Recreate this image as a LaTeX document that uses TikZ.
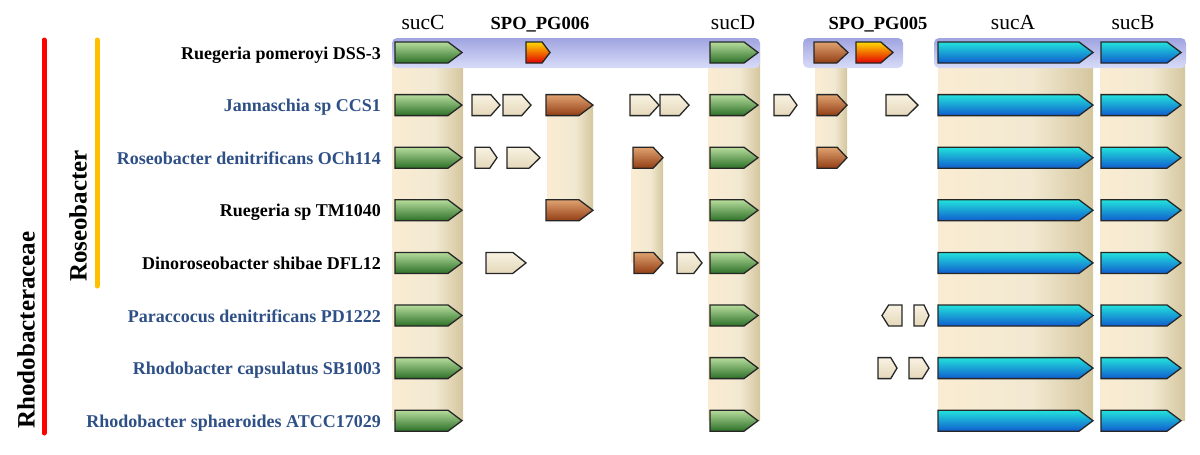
\documentclass[tikz,border=0pt]{standalone}
\usepackage{fontspec}
\setmainfont{Liberation Serif}
\definecolor{greenT}{RGB}{182,220,156}
\definecolor{greenB}{RGB}{44,112,40}
\definecolor{blueT}{RGB}{34,226,220}
\definecolor{blueB}{RGB}{16,92,206}
\definecolor{brownT}{RGB}{224,162,112}
\definecolor{brownB}{RGB}{146,62,20}
\definecolor{redT}{RGB}{255,218,0}
\definecolor{redB}{RGB}{226,0,0}
\definecolor{beigeT}{RGB}{249,242,226}
\definecolor{beigeB}{RGB}{228,216,186}
\definecolor{bandL}{RGB}{250,236,210}
\definecolor{bandM}{RGB}{242,233,210}
\definecolor{bandR}{RGB}{212,198,158}
\definecolor{barT}{RGB}{160,164,224}
\definecolor{barB}{RGB}{216,220,248}
\definecolor{taxblue}{RGB}{46,80,134}
\definecolor{cladered}{RGB}{255,0,0}
\definecolor{cladeyellow}{RGB}{255,192,0}
\pgfdeclarehorizontalshading{band}{100bp}{color(0bp)=(bandL); color(25bp)=(bandL); color(55bp)=(bandM); color(75bp)=(bandR); color(100bp)=(bandR)}
\tikzset{
  gene/.style={draw=black!85, line width=1.3pt, line join=miter},
  greenarrow/.style={top color=greenT, bottom color=greenB},
  bluearrow/.style={top color=blueT, bottom color=blueB},
  brownarrow/.style={top color=brownT, bottom color=brownB},
  redarrow/.style={top color=redT, bottom color=redB},
  beigearrow/.style={top color=beigeT, bottom color=beigeB},
  species/.style={anchor=base east, font=\fontsize{18}{21}\selectfont\bfseries, inner sep=0pt},
  genename/.style={anchor=base, font=\fontsize{21.5}{24}\selectfont, inner sep=0pt},
  pgname/.style={anchor=base, font=\fontsize{18.5}{22}\selectfont\bfseries, inner sep=0pt},
  taxon/.style={rotate=90, font=\fontsize{25}{28}\selectfont\bfseries, inner sep=0pt},
  clade/.style={line width=5pt, line cap=round}
}
\newcommand{\gene}[4]{%
  \pgfmathsetmacro{\hd}{min(14,0.33*(#3-#2))}
  \shadedraw[gene,#1] (#2,#4-10.5) -- (#3-\hd,#4-10.5) -- (#3,#4) -- (#3-\hd,#4+10.5) -- (#2,#4+10.5) -- cycle;}
\newcommand{\geneback}[4]{%
  \pgfmathsetmacro{\hd}{min(14,0.33*(#3-#2))}
  \shadedraw[gene,#1] (#3,#4-10.5) -- (#2+\hd,#4-10.5) -- (#2,#4) -- (#2+\hd,#4+10.5) -- (#3,#4+10.5) -- cycle;}
\begin{document}
\begin{tikzpicture}[x=1pt, y=-1pt]
  \useasboundingbox (0,0) rectangle (1200,455);
  \begin{scope}
    \shade[shading=band] (392,52.5) rectangle (463,420.7);
    \shade[shading=band] (708,52.5) rectangle (760,420.7);
    \shade[shading=band] (938,52.5) rectangle (1093,420.7);
    \shade[shading=band] (1100,52.5) rectangle (1185,420.7);
    \shade[shading=band] (547,105.1) rectangle (593,210.3);
    \shade[shading=band] (631,157.7) rectangle (663,262.9);
    \shade[shading=band] (815,52.5) rectangle (847,157.7);
  \end{scope}
  \begin{scope}[rounded corners=5pt]
    \shade[top color=barT, bottom color=barB] (392,38) rectangle (760,68);
    \shade[top color=barT, bottom color=barB] (803,38) rectangle (903,68);
    \shade[top color=barT, bottom color=barB] (934,38) rectangle (1186,68);
  \end{scope}
  \draw[clade, cladered] (44,40) -- (44,433);
  \draw[clade, cladeyellow] (97,40) -- (97,286);
  \node[taxon] (rhodo) at (26,330) {Rhodobacteraceae};
  \node[taxon] (roseo) at (78,216) {Roseobacter};
  \node[genename] (sucC) at (423,30) {sucC};
  \node[pgname] (pg6) at (540,30) {SPO\_PG006};
  \node[genename] (sucD) at (733,30) {sucD};
  \node[pgname] (pg5) at (878,30) {SPO\_PG005};
  \node[genename] (sucA) at (1013,30) {sucA};
  \node[genename] (sucB) at (1133,30) {sucB};
  \node[species] (rpom) at (381,59) {Ruegeria pomeroyi DSS-3};
  \node[species, taxblue] (jann) at (381,111.6) {Jannaschia sp CCS1};
  \node[species, taxblue] (rden) at (381,164.2) {Roseobacter denitrificans OCh114};
  \node[species] (rtm) at (381,216.8) {Ruegeria sp TM1040};
  \node[species] (dino) at (381,269.4) {Dinoroseobacter shibae DFL12};
  \node[species, taxblue] (para) at (381,322) {Paraccocus denitrificans PD1222};
  \node[species, taxblue] (rcap) at (381,374.6) {Rhodobacter capsulatus SB1003};
  \node[species, taxblue] (rsph) at (381,427.2) {Rhodobacter sphaeroides ATCC17029};
  % Ruegeria pomeroyi DSS-3
  \gene{greenarrow}{395}{462}{52.5}
  \gene{redarrow}{526}{550}{52.5}
  \gene{greenarrow}{710}{758}{52.5}
  \gene{brownarrow}{814}{848}{52.5}
  \gene{redarrow}{856}{893}{52.5}
  \gene{bluearrow}{938}{1093}{52.5}
  \gene{bluearrow}{1101}{1181}{52.5}
  % Jannaschia sp CCS1
  \gene{greenarrow}{395}{462}{105.1}
  \gene{beigearrow}{472}{500}{105.1}
  \gene{beigearrow}{503}{531}{105.1}
  \gene{brownarrow}{546}{593}{105.1}
  \gene{beigearrow}{630}{659}{105.1}
  \gene{beigearrow}{660}{689}{105.1}
  \gene{greenarrow}{710}{758}{105.1}
  \gene{beigearrow}{774}{797}{105.1}
  \gene{brownarrow}{817}{847}{105.1}
  \gene{beigearrow}{886}{918}{105.1}
  \gene{bluearrow}{938}{1093}{105.1}
  \gene{bluearrow}{1101}{1181}{105.1}
  % Roseobacter denitrificans OCh114
  \gene{greenarrow}{395}{462}{157.7}
  \gene{beigearrow}{475}{497}{157.7}
  \gene{beigearrow}{507}{540}{157.7}
  \gene{brownarrow}{633}{663}{157.7}
  \gene{greenarrow}{710}{758}{157.7}
  \gene{brownarrow}{817}{847}{157.7}
  \gene{bluearrow}{938}{1093}{157.7}
  \gene{bluearrow}{1101}{1181}{157.7}
  % Ruegeria sp TM1040
  \gene{greenarrow}{395}{462}{210.3}
  \gene{brownarrow}{546}{593}{210.3}
  \gene{greenarrow}{710}{758}{210.3}
  \gene{bluearrow}{938}{1093}{210.3}
  \gene{bluearrow}{1101}{1181}{210.3}
  % Dinoroseobacter shibae DFL12
  \gene{greenarrow}{395}{462}{262.9}
  \gene{beigearrow}{486}{526}{262.9}
  \gene{brownarrow}{634}{663}{262.9}
  \gene{beigearrow}{677}{702}{262.9}
  \gene{greenarrow}{710}{758}{262.9}
  \gene{bluearrow}{938}{1093}{262.9}
  \gene{bluearrow}{1101}{1181}{262.9}
  % Paraccocus denitrificans PD1222
  \gene{greenarrow}{395}{462}{315.5}
  \gene{greenarrow}{710}{758}{315.5}
  \geneback{beigearrow}{882}{902}{315.5}
  \gene{beigearrow}{914}{929}{315.5}
  \gene{bluearrow}{938}{1093}{315.5}
  \gene{bluearrow}{1101}{1181}{315.5}
  % Rhodobacter capsulatus SB1003
  \gene{greenarrow}{395}{462}{368.1}
  \gene{greenarrow}{710}{758}{368.1}
  \gene{beigearrow}{878}{897}{368.1}
  \gene{beigearrow}{909}{929}{368.1}
  \gene{bluearrow}{938}{1093}{368.1}
  \gene{bluearrow}{1101}{1181}{368.1}
  % Rhodobacter sphaeroides ATCC17029
  \gene{greenarrow}{395}{462}{420.7}
  \gene{greenarrow}{710}{758}{420.7}
  \gene{bluearrow}{938}{1093}{420.7}
  \gene{bluearrow}{1101}{1181}{420.7}
\end{tikzpicture}
\end{document}
